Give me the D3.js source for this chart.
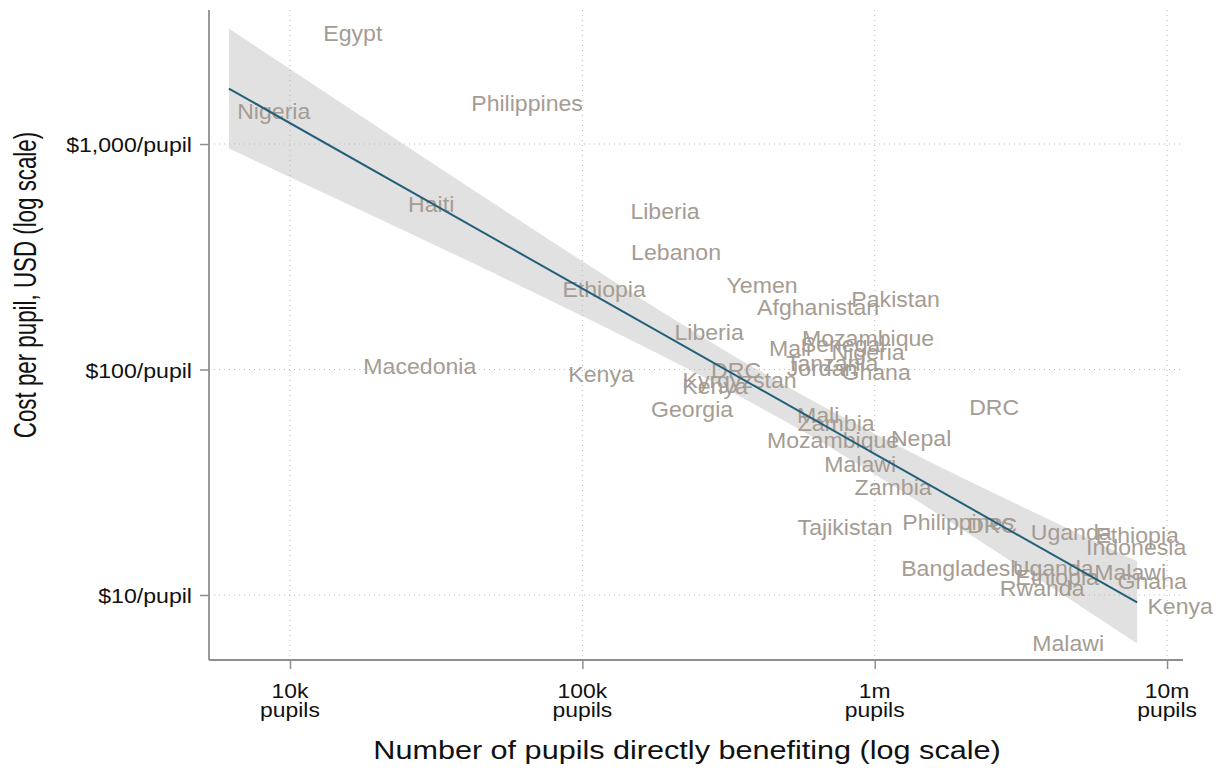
<!DOCTYPE html>
<html>
<head>
<meta charset="utf-8">
<script src="https://cdn.jsdelivr.net/npm/d3@7"></script>
<style>
  html, body { margin: 0; padding: 0; background: #fff; }
  svg { display: block; font-family: "Liberation Sans", Arial, Helvetica, sans-serif; }
</style>
</head>
<body>
<svg id="chart" width="1224" height="771"></svg>
<script>
// Programmes: label, pupils directly benefiting, cost per pupil (USD)
const countries = [
  "Egypt", "Nigeria", "Philippines", "Haiti", "Liberia", "Lebanon", "Ethiopia",
  "Yemen", "Afghanistan", "Pakistan", "Liberia", "Macedonia", "Kenya",
  "Mozambique", "Mali", "Senegal", "Nigeria", "Tanzania", "Jordan", "Ghana",
  "DRC", "Kyrgyzstan", "Kenya", "Georgia", "Mali", "Zambia", "Mozambique",
  "Nepal", "Malawi", "Zambia", "DRC", "Tajikistan", "Philippines", "DRC",
  "Uganda", "Ethiopia", "Indonesia", "Bangladesh", "Uganda", "Ethiopia",
  "Malawi", "Ghana", "Rwanda", "Kenya", "Malawi"
];
const pupils = [
  16400, 8800, 64700, 30400, 191800, 209200, 118700,
  411800, 640300, 1179000, 271400, 27800, 115900,
  949000, 513500, 779800, 949000, 714900, 660700, 1011000,
  335600, 345000, 284500, 237300, 640300, 738000, 720500,
  1441000, 891300, 1156000, 2562000, 792000, 1929000, 2522000,
  4698000, 7902000, 7841000, 1991000, 4077000, 4207000,
  7477000, 8895000, 3739000, 11090000, 4589000
];
const costPerPupil = [
  3090, 1394, 1512, 539, 502, 330, 228,
  236, 188.7, 205.8, 146.4, 103, 95,
  137, 124, 130, 119, 107, 101, 97,
  99, 89.4, 84, 66.5, 62.5, 57.6, 48.4,
  49.4, 38.0, 30.0, 67.8, 19.9, 21.0, 20.3,
  18.9, 18.4, 16.2, 13.2, 13.1, 11.96,
  12.6, 11.5, 10.7, 8.9, 6.1
];

// Fitted line (log-log) and its 95% confidence band
const fitPupils = [6180, 7900000];
const fitCost = [1762, 9.27];
const bandPupils = [6183, 16040, 44670, 115000, 295900, 555500, 1221000, 3143000, 7902000];
const bandHigh = [3253, 1433, 597, 269, 125, 78.1, 45.5, 24.9, 14.1];
const bandLow = [955, 535, 286, 158, 84.8, 54.0, 29.2, 13.3, 6.1];

// Axis ticks
const xTicks = [1e4, 1e5, 1e6, 1e7];
const xTickLabels = ["10k", "100k", "1m", "10m"];
const yTicks = [10, 100, 1000];
const yTickLabels = ["$10/pupil", "$100/pupil", "$1,000/pupil"];

const svg = d3.select("#chart");
const plotLeft = 209, plotRight = 1187, plotTop = 10, plotBottom = 660;

const x = d3.scaleLog().domain([5284, 11700000]).range([plotLeft, plotRight]);
const y = d3.scaleLog().domain([5.15, 3929]).range([plotBottom, plotTop]);

const labelColor = "#a59c93";
const axisColor = "#8e8e8e";

// Confidence band
const band = bandPupils.map((p, i) => ({ p, lo: bandLow[i], hi: bandHigh[i] }));
svg.append("path")
  .datum(band)
  .attr("fill", "#e1e1e1")
  .attr("d", d3.area()
    .x(d => x(d.p))
    .y0(d => y(d.lo))
    .y1(d => y(d.hi))
    .curve(d3.curveMonotoneX));

// Dotted gridlines
const grid = svg.append("g")
  .attr("stroke", "#b9b9b9")
  .attr("stroke-width", 1)
  .attr("stroke-dasharray", "1,4");
grid.selectAll("line.gx").data(xTicks).join("line")
  .attr("x1", d => x(d)).attr("x2", d => x(d))
  .attr("y1", plotTop).attr("y2", plotBottom);
grid.selectAll("line.gy").data(yTicks).join("line")
  .attr("x1", plotLeft).attr("x2", plotRight - 4)
  .attr("y1", d => y(d)).attr("y2", d => y(d));

// Country labels, centred on each programme
const labels = svg.append("g")
  .attr("fill", labelColor)
  .attr("font-size", 22);
countries.forEach((name, i) => {
  labels.append("text")
    .attr("transform", `translate(${x(pupils[i])},${y(costPerPupil[i])}) scale(1.05,1)`)
    .attr("text-anchor", "middle")
    .attr("dy", "0.35em")
    .text(name);
});

// Fitted line
svg.append("path")
  .datum(fitPupils.map((p, i) => [p, fitCost[i]]))
  .attr("fill", "none")
  .attr("stroke", "#235f7a")
  .attr("stroke-width", 2)
  .attr("d", d3.line().x(d => x(d[0])).y(d => y(d[1])));

// Axes
const xAxis = d3.axisBottom(x).tickValues(xTicks).tickSize(9).tickFormat(() => "");
const yAxis = d3.axisLeft(y).tickValues(yTicks).tickSize(9).tickFormat(() => "");

const gx = svg.append("g").attr("transform", `translate(0,${plotBottom})`).call(xAxis);
const gy = svg.append("g").attr("transform", `translate(${plotLeft},0)`).call(yAxis);
[gx, gy].forEach(g => {
  g.select(".domain").remove();
  g.selectAll(".tick line").attr("stroke", axisColor).attr("stroke-width", 1.5);
});
svg.append("line")
  .attr("x1", plotLeft).attr("x2", plotLeft).attr("y1", plotTop).attr("y2", plotBottom)
  .attr("stroke", axisColor).attr("stroke-width", 1.8);
svg.append("line")
  .attr("x1", plotLeft).attr("x2", plotRight - 4).attr("y1", plotBottom).attr("y2", plotBottom)
  .attr("stroke", axisColor).attr("stroke-width", 1.8);

// Tick labels
const tickText = svg.append("g").attr("fill", "#111").attr("font-size", 21);
xTicks.forEach((t, i) => {
  tickText.append("text")
    .attr("transform", `translate(${x(t)},698) scale(1.09,1)`)
    .attr("text-anchor", "middle")
    .text(xTickLabels[i]);
  tickText.append("text")
    .attr("transform", `translate(${x(t)},717) scale(1.09,1)`)
    .attr("text-anchor", "middle")
    .text("pupils");
});
yTicks.forEach((t, i) => {
  tickText.append("text")
    .attr("transform", `translate(192,${y(t) + 8}) scale(1.1,1)`)
    .attr("text-anchor", "end")
    .text(yTickLabels[i]);
});

// Axis titles
svg.append("text")
  .attr("transform", `translate(${(plotLeft + plotRight) / 2 - 11},759) scale(1.2,1)`)
  .attr("text-anchor", "middle")
  .attr("font-size", 25.5)
  .attr("fill", "#111")
  .text("Number of pupils directly benefiting (log scale)");
svg.append("text")
  .attr("transform", "translate(36,285) rotate(-90) scale(0.93,1.28)")
  .attr("text-anchor", "middle")
  .attr("font-size", 24)
  .attr("fill", "#111")
  .text("Cost per pupil, USD (log scale)");
</script>
</body>
</html>
